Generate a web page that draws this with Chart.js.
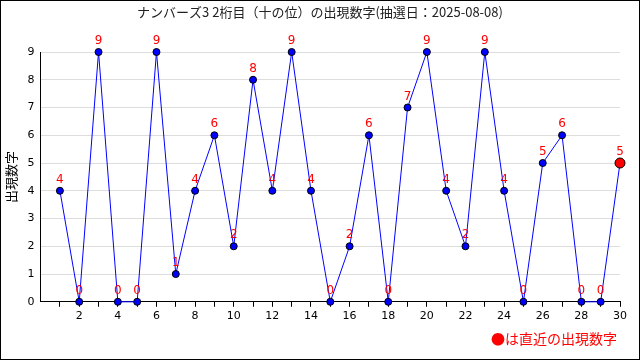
<!DOCTYPE html>
<html>
<head>
<meta charset="utf-8">
<script src="https://cdn.jsdelivr.net/npm/chart.js@4"></script>
<style>
  html, body { margin: 0; padding: 0; background: #fff; }
  #wrap { width: 640px; height: 360px; position: relative; }
</style>
</head>
<body>
<div id="wrap"><canvas id="numChart" width="640" height="360"></canvas></div>
<script>
// draw numbers (1 = oldest, 30 = latest)
const drawNo = [1, 2, 3, 4, 5, 6, 7, 8, 9, 10, 11, 12, 13, 14, 15, 16, 17, 18, 19, 20, 21, 22, 23, 24, 25, 26, 27, 28, 29, 30];
const digits = [4, 0, 9, 0, 0, 9, 1, 4, 6, 2, 8, 4, 9, 4, 0, 2, 6, 0, 7, 9, 4, 2, 9, 4, 0, 5, 6, 0, 0, 5];
const yTicks = [0, 1, 2, 3, 4, 5, 6, 7, 8, 9];

const titleText = "ナンバーズ3 2桁目（十の位）の出現数字(抽選日：2025-08-08)";
const yTitle = "出現数字";
const noteText = "●は直近の出現数字";

const last = digits.length - 1;
const font = "'DejaVu Sans', 'Noto Sans CJK JP', sans-serif";

// red numbers above points + title, note and frame
const extras = {
  id: 'extras',
  afterDatasetsDraw(chart) {
    const c = chart.ctx;
    const pts = chart.getDatasetMeta(0).data;
    c.save();
    c.fillStyle = '#ff0000';
    c.font = '12px ' + font;
    c.textAlign = 'center';
    c.textBaseline = 'middle';
    pts.forEach((p, i) => {
      c.fillText(String(digits[i]), p.x, p.y - 11);
    });
    c.restore();
  },
  afterDraw(chart) {
    const c = chart.ctx;
    c.save();
    c.fillStyle = '#222';
    c.font = "13px 'Noto Sans CJK JP', sans-serif";
    c.textAlign = 'center';
    c.textBaseline = 'middle';
    c.fillText(titleText, 320, 12);

    c.fillStyle = '#ff0000';
    c.font = "14px 'Noto Sans CJK JP', sans-serif";
    c.textAlign = 'right';
    c.fillText(noteText, 617, 339);

    c.strokeStyle = '#000';
    c.lineWidth = 1;
    c.strokeRect(0.5, 0.5, 639, 359);
    c.restore();
  }
};

new Chart(document.getElementById('numChart'), {
  type: 'line',
  data: {
    datasets: [{
      data: drawNo.map((n, i) => ({ x: n, y: digits[i] })),
      borderColor: '#0000ff',
      borderWidth: 1,
      tension: 0,
      clip: false,
      pointBackgroundColor: digits.map((d, i) => i === last ? '#ff0000' : '#0000ff'),
      pointBorderColor: '#000',
      pointBorderWidth: 1,
      pointRadius: digits.map((d, i) => i === last ? 5 : 3.5)
    }]
  },
  options: {
    responsive: false,
    animation: false,
    layout: { padding: { top: 52, right: 20, bottom: 34, left: 3 } },
    plugins: {
      legend: { display: false },
      tooltip: { enabled: false }
    },
    scales: {
      x: {
        type: 'linear',
        min: 0,
        max: 30,
        afterBuildTicks(axis) {
          axis.ticks = drawNo.map(v => ({ value: v }));
        },
        ticks: {
          autoSkip: false,
          maxRotation: 0,
          color: '#000',
          font: { size: 11, family: font },
          padding: 3,
          callback: v => (v % 2 === 0 ? v : '')
        },
        grid: { drawOnChartArea: false, drawTicks: true, tickLength: 5, color: '#000' },
        border: { color: '#000' }
      },
      y: {
        min: 0,
        max: 9,
        afterBuildTicks(axis) {
          axis.ticks = yTicks.map(v => ({ value: v }));
        },
        ticks: {
          color: '#000',
          font: { size: 11, family: font },
          padding: 6
        },
        grid: { color: '#dddddd', drawTicks: false },
        border: { color: '#000' },
        title: {
          display: true,
          text: yTitle,
          color: '#000',
          font: { size: 13, family: "'Noto Sans CJK JP', sans-serif" },
          padding: { top: 0, bottom: 3 }
        }
      }
    }
  },
  plugins: [extras]
});
</script>
</body>
</html>
